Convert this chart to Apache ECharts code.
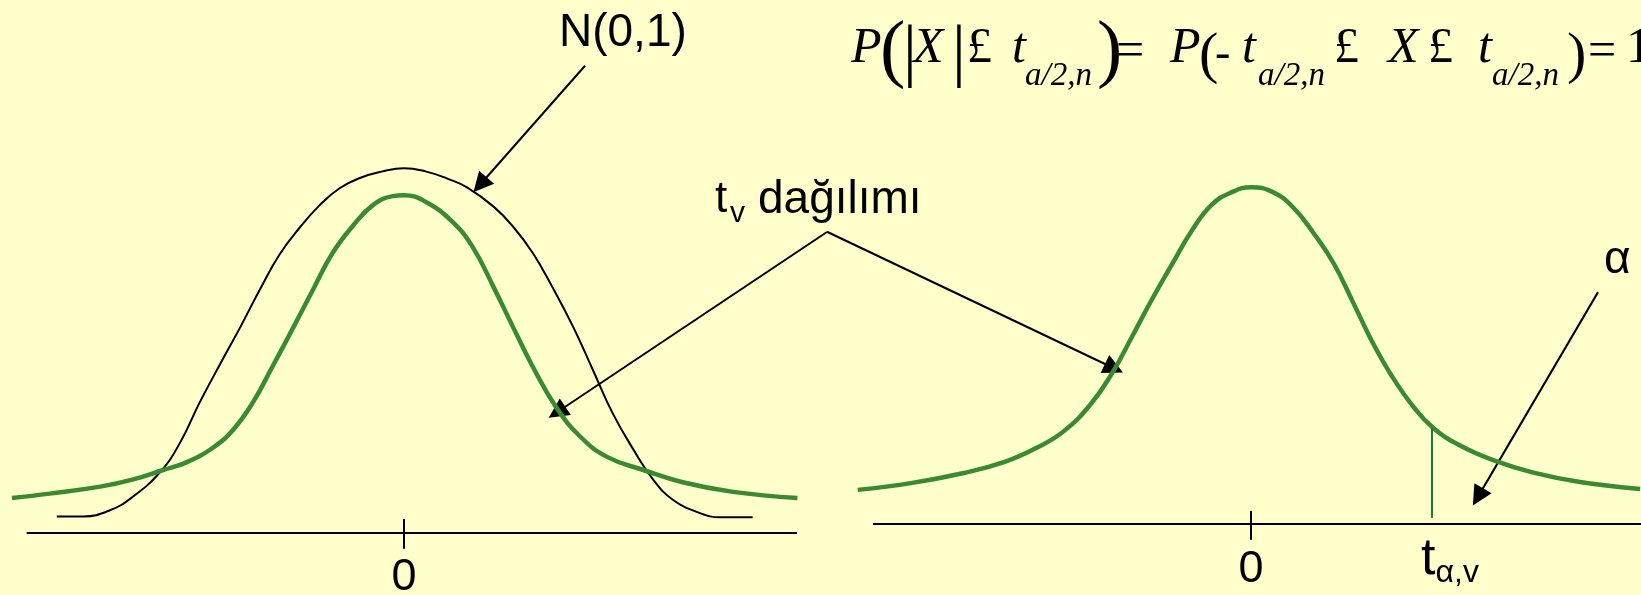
<!DOCTYPE html>
<html>
<head>
<meta charset="utf-8">
<script src="https://cdn.jsdelivr.net/npm/echarts@6/dist/echarts.min.js"></script>
<style>
    html, body { margin: 0; padding: 0; background: #ffffcc; }
    #chart { width: 1641px; height: 595px; }
</style>
</head>
<body>
<div id="chart"></div>
<script>
// x in sd units, y = height above the axis line
var normalCurve = [
    [-2.48, 0.019], [-2.29, 0.019], [-2.10, 0.026], [-1.94, 0.041], [-1.74, 0.070], [-1.60, 0.103],
    [-1.46, 0.149], [-1.31, 0.194], [-1.17, 0.235], [-1.03, 0.278], [-0.89, 0.318], [-0.74, 0.350],
    [-0.60, 0.375], [-0.46, 0.394], [-0.31, 0.406], [-0.16, 0.413], [0, 0.417], [0.16, 0.413],
    [0.31, 0.405], [0.45, 0.395], [0.64, 0.373], [0.78, 0.350], [0.92, 0.320], [1.06, 0.281],
    [1.21, 0.235], [1.35, 0.186], [1.49, 0.137], [1.64, 0.095], [1.78, 0.061], [1.92, 0.038],
    [2.11, 0.023], [2.26, 0.018], [2.49, 0.018]
];
var tCurveLeft = [
    [-2.80, 0.040], [-2.53, 0.045], [-2.17, 0.053], [-1.94, 0.061], [-1.72, 0.072], [-1.55, 0.081],
    [-1.36, 0.098], [-1.22, 0.118], [-1.08, 0.149], [-0.94, 0.190], [-0.79, 0.235], [-0.65, 0.278],
    [-0.51, 0.320], [-0.36, 0.352], [-0.22, 0.375], [-0.08, 0.385], [0, 0.386], [0.16, 0.378],
    [0.35, 0.355], [0.49, 0.327], [0.64, 0.281], [0.78, 0.235], [0.92, 0.190], [1.09, 0.143],
    [1.26, 0.110], [1.45, 0.087], [1.71, 0.072], [1.99, 0.058], [2.35, 0.047], [2.81, 0.040]
];
var tCurveRight = [
    [-2.81, 0.039], [-2.42, 0.047], [-2.06, 0.058], [-1.76, 0.071], [-1.52, 0.088], [-1.33, 0.107],
    [-1.14, 0.138], [-0.99, 0.173], [-0.85, 0.214], [-0.71, 0.256], [-0.56, 0.298], [-0.42, 0.336],
    [-0.28, 0.365], [-0.14, 0.379], [0, 0.385], [0.16, 0.379], [0.30, 0.362], [0.44, 0.334],
    [0.59, 0.298], [0.73, 0.253], [0.87, 0.207], [1.01, 0.168], [1.16, 0.134], [1.30, 0.110],
    [1.49, 0.090], [1.73, 0.073], [2.01, 0.059], [2.35, 0.048], [2.78, 0.040]
];
var axisLineLeft = [-2.695, 2.807];   // drawn horizontal axis
var axisLineRight = [-2.7, 2.786];
var viewLeft = [-2.814, 2.807];       // visible x range of each panel
var viewRight = [-2.829, 2.786];
var tickValuesLeft = [0];
var tickValuesRight = [0];
var tAlpha = 1.293;          // critical value t(alpha, v)
var tAlphaHeight = 0.110;    // curve height at tAlpha
var tickExtentLeft = [0.016, -0.018];
var tickExtentRight = [0.015, -0.018];

// arrows: [from, to] in each panel's axis units
var arrowsLeft = [
    [[1.293, 0.534], [0.543, 0.398]],   // N(0,1)
    [[3.021, 0.344], [1.093, 0.138]]    // t_v (left)
];
var arrowsRight = [
    [[-3.029, 0.334], [-0.979, 0.178]], // t_v (right)
    [[2.479, 0.265], [1.621, 0.031]]    // alpha
];

// formula pieces: text, left x, font size, baseline, italic
var formulaPieces = [
    ['P', 851, 50, 64, true], ['(', 880, 76, 76, false], ['|', 903, 69, 76, false],
    ['X', 913, 50, 64, true], ['|', 952, 69, 76, false], ['£', 967, 50, 64, false],
    ['t', 1012, 50, 64, true], ['a/2,n', 1025, 33, 86, true], [')', 1097, 76, 76, false],
    ['=', 1116, 50, 68, false], ['P', 1170, 50, 64, true], ['(', 1199, 58, 74, false],
    ['-', 1215, 46, 69, false], ['t', 1242, 50, 64, true], ['a/2,n', 1258, 33, 86, true],
    ['£', 1334, 50, 64, false], ['X', 1388, 50, 64, true], ['£', 1428, 50, 64, false],
    ['t', 1478, 50, 64, true], ['a/2,n', 1492, 33, 86, true], [')', 1567, 58, 74, false],
    ['=', 1588, 50, 68, false], ['1 - a', 1626, 50, 64, false]
];

var green = '#3a8a32';
var sans = '"Liberation Sans", Arial, sans-serif';
var serif = '"Liberation Serif", "Times New Roman", serif';

var chart = echarts.init(document.getElementById('chart'));

function plainLine(data, idx, color, width) {
    return {
        type: 'line', xAxisIndex: idx, yAxisIndex: idx, clip: false, silent: true,
        showSymbol: false, symbol: 'none',
        lineStyle: {color: color, width: width},
        data: data
    };
}

function tickSeries(values, extent, idx) {
    return values.map(function (v) {
        return plainLine([[v, extent[0]], [v, extent[1]]], idx, '#000', 2);
    });
}

function curve(name, data, idx, color, width) {
    var s = plainLine(data, idx, color, width);
    s.name = name;
    s.smooth = 0.45;
    return s;
}

function arrowSeries(arrows, idx) {
    return {
        type: 'lines', coordinateSystem: 'cartesian2d', xAxisIndex: idx, yAxisIndex: idx,
        clip: false, silent: true,
        symbol: ['none', 'triangle'], symbolSize: 20,
        lineStyle: {color: '#000', width: 2, opacity: 1},
        data: arrows.map(function (a) { return {coords: a}; })
    };
}

function label(text, x, y, size) {
    return {
        type: 'text', x: x, y: y, silent: true,
        style: {text: text, fill: '#000', font: size + 'px ' + sans, align: 'left', verticalAlign: 'middle'}
    };
}

var graphics = formulaPieces.map(function (p) {
    return {
        type: 'text', x: p[1], y: p[3] - 0.3 * p[2], silent: true,
        style: {
            text: p[0], fill: '#000', align: 'left', verticalAlign: 'middle',
            font: (p[4] ? 'italic ' : '') + p[2] + 'px ' + serif
        }
    };
});
graphics.push(
    label('N(0,1)', 559, 33, 46),
    label('t', 715, 200, 44),
    label('v', 730, 214, 30),
    label('dağılımı', 758, 200, 46),
    label('α', 1604, 260, 46)
);

var option = {
    backgroundColor: '#ffffcc',
    animation: false,
    grid: [
        {left: 10, top: 95.5, width: 787, height: 437.5, containLabel: false, outerBoundsMode: 'none'},
        {left: 855, top: 86.5, width: 786, height: 437.5, containLabel: false, outerBoundsMode: 'none'}
    ],
    xAxis: [
        {
            gridIndex: 0, type: 'value', min: viewLeft[0], max: viewLeft[1],
            splitLine: {show: false}, axisTick: {show: false}, axisLine: {show: false},
            axisLabel: {
                customValues: tickValuesLeft, margin: 22, color: '#000',
                fontFamily: sans, fontSize: 45,
                formatter: function (v) { return v === 0 ? '0' : ''; }
            }
        },
        {
            gridIndex: 1, type: 'value', min: viewRight[0], max: viewRight[1],
            splitLine: {show: false}, axisTick: {show: false}, axisLine: {show: false},
            axisLabel: {
                customValues: tickValuesRight.concat([tAlpha]), margin: 10, color: '#000',
                fontFamily: sans,
                formatter: function (v) { return v === 0 ? '{z|0}' : '{t|t}{s|α,v}'; },
                rich: {
                    z: {fontSize: 45, fontFamily: sans, color: '#000', padding: [13, 0, 0, 0]},
                    t: {fontSize: 52, fontFamily: sans, color: '#000', verticalAlign: 'bottom', padding: [0, 0, 3, 36]},
                    s: {fontSize: 32, fontFamily: sans, color: '#000', verticalAlign: 'bottom'}
                }
            }
        }
    ],
    yAxis: [
        {gridIndex: 0, type: 'value', min: 0, max: 0.5, show: false},
        {gridIndex: 1, type: 'value', min: 0, max: 0.5, show: false}
    ],
    series: [
        plainLine([[axisLineLeft[0], 0], [axisLineLeft[1], 0]], 0, '#000', 2),
        plainLine([[axisLineRight[0], 0], [axisLineRight[1], 0]], 1, '#000', 2),
        curve('N(0,1)', normalCurve, 0, '#000', 2),
        curve('t left', tCurveLeft, 0, green, 4.5),
        curve('t right', tCurveRight, 1, green, 4.5),
        plainLine([[tAlpha, tAlphaHeight], [tAlpha, 0.007]], 1, '#1a7a3a', 2),
        arrowSeries(arrowsLeft, 0),
        arrowSeries(arrowsRight, 1)
    ].concat(tickSeries(tickValuesLeft, tickExtentLeft, 0), tickSeries(tickValuesRight, tickExtentRight, 1)),
    graphic: graphics
};

chart.setOption(option);
</script>
</body>
</html>
